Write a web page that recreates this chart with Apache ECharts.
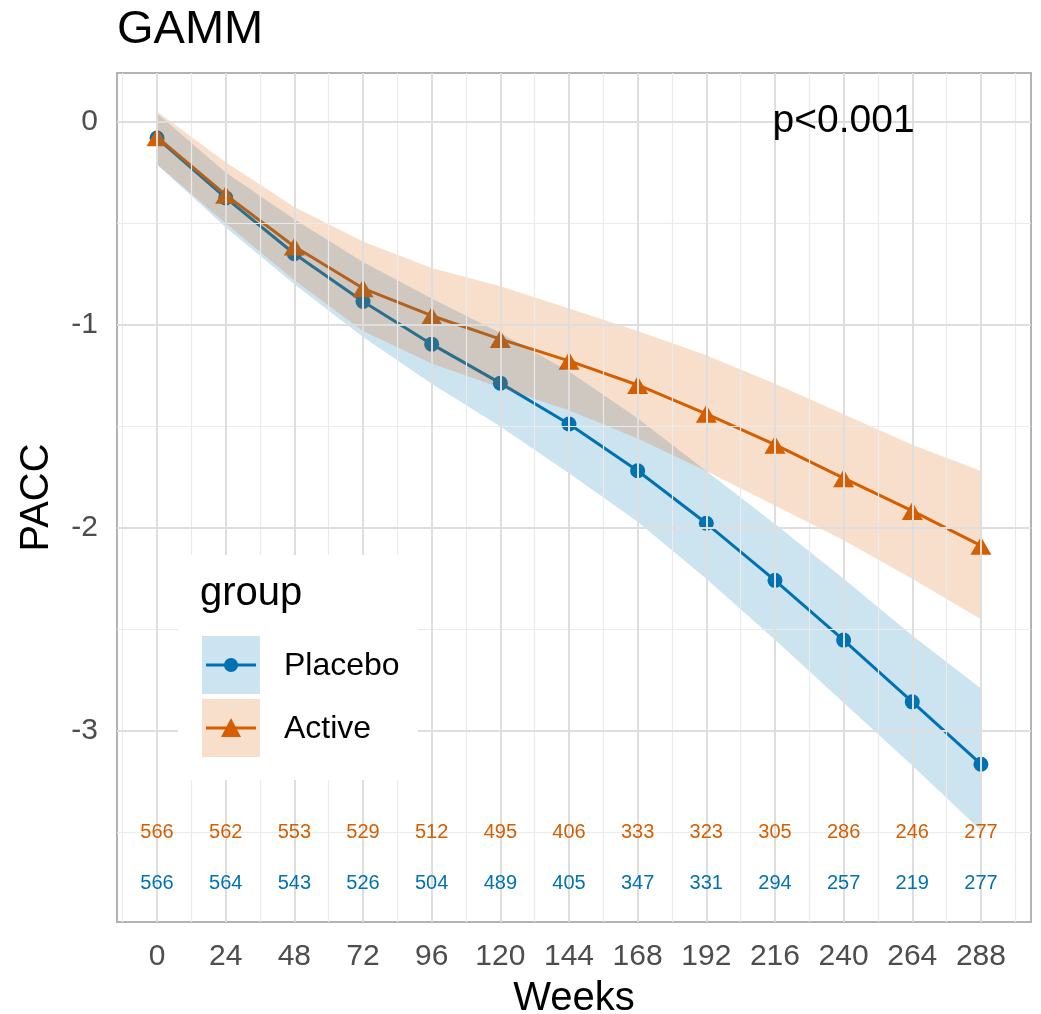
<!DOCTYPE html>
<html>
<head>
<meta charset="utf-8">
<script src="https://cdn.jsdelivr.net/npm/echarts@6/dist/echarts.min.js"></script>
<style>
html, body { margin: 0; padding: 0; background: #fff; }
#chart { width: 1041px; height: 1014px; }
</style>
</head>
<body>
<div id="chart"></div>
<script>
// data
var weeks = [0, 24, 48, 72, 96, 120, 144, 168, 192, 216, 240, 264, 288];
var placeboMean  = [-0.08, -0.375, -0.65, -0.885, -1.095, -1.287, -1.488, -1.718, -1.977, -2.258, -2.552, -2.856, -3.163];
var placeboUpper = [0.04, -0.25, -0.48, -0.69, -0.87, -1.04, -1.23, -1.46, -1.72, -1.98, -2.25, -2.53, -2.79];
var placeboLower = [-0.21, -0.52, -0.80, -1.06, -1.29, -1.50, -1.73, -1.97, -2.25, -2.55, -2.86, -3.17, -3.49];
var activeMean   = [-0.076, -0.36, -0.614, -0.82, -0.955, -1.07, -1.177, -1.296, -1.438, -1.59, -1.755, -1.916, -2.087];
var activeUpper  = [0.05, -0.20, -0.42, -0.59, -0.72, -0.81, -0.92, -1.03, -1.15, -1.29, -1.44, -1.59, -1.72];
var activeLower  = [-0.21, -0.50, -0.78, -1.03, -1.19, -1.31, -1.42, -1.56, -1.72, -1.89, -2.06, -2.25, -2.45];
var activeN  = [566, 562, 553, 529, 512, 495, 406, 333, 323, 305, 286, 246, 277];
var placeboN = [566, 564, 543, 526, 504, 489, 405, 347, 331, 294, 257, 219, 277];
var xMajor = [0, 24, 48, 72, 96, 120, 144, 168, 192, 216, 240, 264, 288];
var xMinor = [-12, 12, 36, 60, 84, 108, 132, 156, 180, 204, 228, 252, 276, 300];
var yMajor = [0, -1, -2, -3];
var yMinor = [-0.5, -1.5, -2.5, -3.5];
var activeNY = -3.5, placeboNY = -3.75;
var pText = 'p<0.001', pPos = [240, 0];

var BLUE = '#0072B2', ORANGE = '#D55E00';
var FONT = '"Liberation Sans", Arial, Helvetica, sans-serif';

function pairs(xs, ys) {
  return xs.map(function (x, i) { return [x, ys[i]]; });
}

// ribbon drawn as one polygon through the axes
function ribbon(name, lower, upper, fill) {
  return {
    name: name,
    type: 'custom',
    silent: true,
    z: 4,
    data: weeks.map(function (w, i) { return [w, lower[i], upper[i]]; }),
    renderItem: function (params, api) {
      if (params.dataIndex !== 0) return;
      var top = [], bot = [];
      for (var i = 0; i < weeks.length; i++) {
        top.push(api.coord([weeks[i], upper[i]]));
        bot.unshift(api.coord([weeks[i], lower[i]]));
      }
      return { type: 'polygon', shape: { points: top.concat(bot) }, style: { fill: fill } };
    }
  };
}

function textSeries(data, color, size, fmt) {
  return {
    type: 'scatter',
    silent: true,
    z: 6,
    symbolSize: 0.1,
    itemStyle: { color: 'transparent' },
    data: data,
    label: {
      show: true, position: 'inside', color: color, fontSize: size, fontFamily: FONT,
      textBorderWidth: 0, opacity: 1, formatter: fmt
    }
  };
}

function countLabels(ns, yv, color) {
  return textSeries(weeks.map(function (w, i) { return [w, yv, ns[i]]; }), color, 20,
    function (p) { return p.value[2]; });
}

var gridLines = [];
xMinor.forEach(function (v) { gridLines.push({ xAxis: v, lineStyle: { color: '#ebebeb', width: 1.2, type: 'solid' } }); });
yMinor.forEach(function (v) { gridLines.push({ yAxis: v, lineStyle: { color: '#ebebeb', width: 1.2, type: 'solid' } }); });
xMajor.forEach(function (v) { gridLines.push({ xAxis: v, lineStyle: { color: '#dedede', width: 2, type: 'solid' } }); });
yMajor.forEach(function (v) { gridLines.push({ yAxis: v, lineStyle: { color: '#dedede', width: 2, type: 'solid' } }); });

var chart = echarts.init(document.getElementById('chart'));
var option = {
  animation: false,
  backgroundColor: '#fff',
  textStyle: { fontFamily: FONT },
  title: {
    text: 'GAMM', left: 112, top: 2,
    textStyle: { fontSize: 47, fontWeight: 'normal', color: '#000', fontFamily: FONT }
  },
  grid: {
    left: 117, right: 10, top: 73, bottom: 92,
    outerBoundsMode: 'none', containLabel: false,
    show: true, borderColor: '#b3b3b3', borderWidth: 2, backgroundColor: 'transparent'
  },
  xAxis: {
    type: 'value', min: -14, max: 305.5,
    name: 'Weeks', nameLocation: 'middle', nameGap: 57,
    nameTextStyle: { fontSize: 40, color: '#000', fontFamily: FONT },
    axisLine: { show: false },
    axisTick: { show: true, length: 10, lineStyle: { color: '#b3b3b3', width: 2 }, customValues: xMajor },
    axisLabel: { fontSize: 30, color: '#4d4d4d', margin: 20, customValues: xMajor, fontFamily: FONT },
    splitLine: { show: false }
  },
  yAxis: {
    type: 'value', min: -3.94, max: 0.24,
    name: 'PACC', nameLocation: 'middle', nameGap: 60, nameRotate: 90,
    nameTextStyle: { fontSize: 40, color: '#000', fontFamily: FONT },
    axisLine: { show: false },
    axisTick: { show: true, length: 10, lineStyle: { color: '#b3b3b3', width: 2 }, customValues: yMajor },
    axisLabel: { fontSize: 30, color: '#4d4d4d', margin: 19, customValues: yMajor, fontFamily: FONT },
    splitLine: { show: false }
  },
  series: [
    {
      type: 'scatter', silent: true, z: 1, symbolSize: 0,
      data: [[0, 0]],
      markLine: { silent: true, symbol: 'none', label: { show: false }, animation: false, data: gridLines }
    },
    {
      name: 'Placebo', type: 'line', z: 3, data: pairs(weeks, placeboMean),
      symbol: 'circle', symbolSize: 15, showAllSymbol: true,
      lineStyle: { color: BLUE, width: 3 }, itemStyle: { color: BLUE }
    },
    {
      name: 'Active', type: 'line', z: 3, data: pairs(weeks, activeMean),
      symbol: 'triangle', symbolSize: [21, 18], showAllSymbol: true,
      lineStyle: { color: ORANGE, width: 3 }, itemStyle: { color: ORANGE }
    },
    ribbon('Placebo band', placeboLower, placeboUpper, 'rgba(0,114,178,0.2)'),
    ribbon('Active band', activeLower, activeUpper, 'rgba(213,94,0,0.2)'),
    countLabels(activeN, activeNY, ORANGE),
    countLabels(placeboN, placeboNY, BLUE),
    textSeries([pPos], '#000', 39, pText)
  ],
  graphic: [
    { type: 'rect', z: 100, shape: { x: 178, y: 555, width: 240, height: 225 }, style: { fill: '#fff' } },
    { type: 'text', z: 101, style: { x: 200, y: 594, text: 'group', fontSize: 40, fontFamily: FONT, fill: '#000', verticalAlign: 'middle' } },
    { type: 'rect', z: 101, shape: { x: 202, y: 636, width: 58, height: 58 }, style: { fill: 'rgba(0,114,178,0.2)' } },
    { type: 'line', z: 102, shape: { x1: 206, y1: 665, x2: 256, y2: 665 }, style: { stroke: BLUE, lineWidth: 3 } },
    { type: 'circle', z: 103, shape: { cx: 231, cy: 665, r: 7 }, style: { fill: BLUE } },
    { type: 'text', z: 101, style: { x: 284, y: 666, text: 'Placebo', fontSize: 32, fontFamily: FONT, fill: '#000', verticalAlign: 'middle' } },
    { type: 'rect', z: 101, shape: { x: 202, y: 699, width: 58, height: 58 }, style: { fill: 'rgba(213,94,0,0.2)' } },
    { type: 'line', z: 102, shape: { x1: 206, y1: 728, x2: 256, y2: 728 }, style: { stroke: ORANGE, lineWidth: 3 } },
    { type: 'polygon', z: 103, shape: { points: [[231, 718], [241, 737], [221, 737]] }, style: { fill: ORANGE } },
    { type: 'text', z: 101, style: { x: 284, y: 729, text: 'Active', fontSize: 32, fontFamily: FONT, fill: '#000', verticalAlign: 'middle' } }
  ]
};
chart.setOption(option);
</script>
</body>
</html>
